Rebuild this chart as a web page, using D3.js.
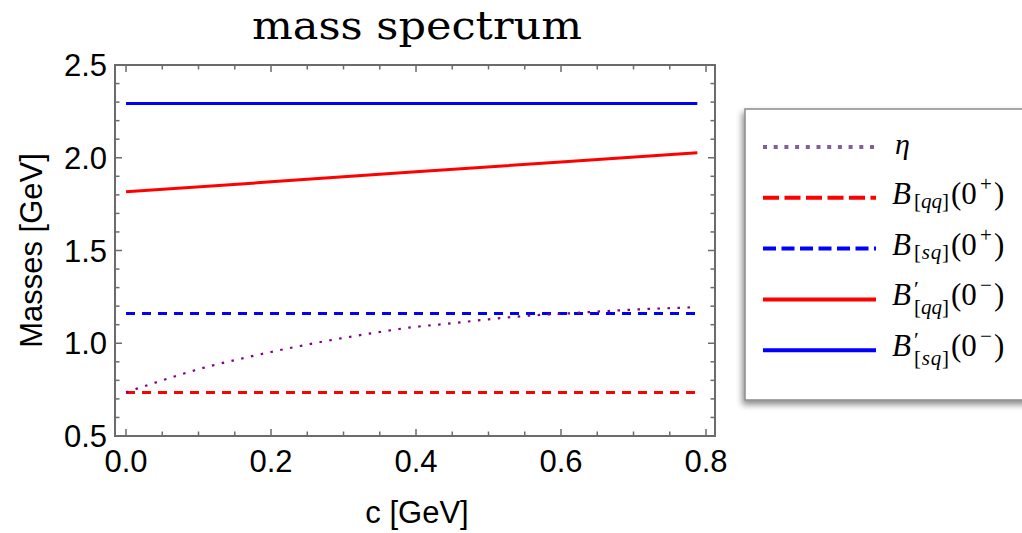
<!DOCTYPE html>
<html>
<head>
<meta charset="utf-8">
<script src="https://cdn.jsdelivr.net/npm/d3@7"></script>
<style>
  html, body { margin: 0; padding: 0; background: #fff; }
  svg { display: block; }
</style>
</head>
<body>
<div id="chart"></div>
<script>
//<data>-------------------------------------//
var cEta = [0, 0.04, 0.08, 0.12, 0.16, 0.20, 0.24, 0.28, 0.32, 0.36, 0.39, 0.45, 0.50, 0.56, 0.61, 0.67, 0.72, 0.78, 0.788];
var mEta = [0.736, 0.787, 0.837, 0.881, 0.918, 0.953, 0.985, 1.015, 1.042, 1.067, 1.084, 1.108, 1.129, 1.150, 1.161, 1.175, 1.185, 1.194, 1.196];
var cLine = [0, 0.2, 0.4, 0.6, 0.788];
var mBqq0p = [0.735, 0.735, 0.735, 0.735, 0.735];
var mBsq0p = [1.161, 1.161, 1.161, 1.161, 1.161];
var mBqq0m = [1.817, 1.870, 1.924, 1.977, 2.027];
var mBsq0m = [2.293, 2.293, 2.293, 2.293, 2.293];
var xTicks = [0.0, 0.2, 0.4, 0.6, 0.8];
var yTicks = [0.5, 1.0, 1.5, 2.0, 2.5];

var W = 1022, H = 533;
var frame = { left: 115, right: 715, top: 65, bottom: 436 };

var svg = d3.select("#chart").append("svg").attr("width", W).attr("height", H);
var defs = svg.append("defs");
var shadow = defs.append("filter").attr("id", "shadow").attr("x", "-10%").attr("y", "-10%").attr("width", "130%").attr("height", "130%");
shadow.append("feDropShadow").attr("dx", -2).attr("dy", 4).attr("stdDeviation", 3).attr("flood-color", "#000").attr("flood-opacity", 0.45);

var x = d3.scaleLinear().domain([-0.0152, 0.8124]).range([frame.left, frame.right]);
var y = d3.scaleLinear().domain([0.5, 2.5]).range([frame.bottom, frame.top]);

//<title>------------------------------------//
svg.append("text")
    .attr("x", (frame.left + frame.right) / 2 + 2).attr("y", 39)
    .attr("text-anchor", "middle")
    .attr("textLength", 330).attr("lengthAdjust", "spacingAndGlyphs")
    .style("font-family", "'DejaVu Serif', 'Liberation Serif', serif")
    .style("font-size", "40px")
    .text("mass spectrum");

//<series>-----------------------------------//
var line = d3.line().x(function (d) { return x(d[0]); }).y(function (d) { return y(d[1]); });
var lineSmooth = d3.line().curve(d3.curveMonotoneX).x(function (d) { return x(d[0]); }).y(function (d) { return y(d[1]); });

var plot = svg.append("g");
var series = [
    { c: cLine, m: mBsq0m, color: "#0000ff", dash: null, width: 3 },
    { c: cLine, m: mBqq0m, color: "#ff0000", dash: null, width: 3 },
    { c: cLine, m: mBsq0p, color: "#0000ff", dash: "9,7", width: 3 },
    { c: cLine, m: mBqq0p, color: "#ff0000", dash: "9,7", width: 3 },
];
series.forEach(function (s) {
    plot.append("path")
        .datum(d3.zip(s.c, s.m))
        .attr("d", line)
        .attr("fill", "none")
        .attr("stroke", s.color)
        .attr("stroke-width", s.width)
        .attr("stroke-dasharray", s.dash);
});
plot.append("path")
    .datum(d3.zip(cEta, mEta))
    .attr("d", lineSmooth)
    .attr("fill", "none")
    .attr("stroke", "#800080")
    .attr("stroke-width", 2.2)
    .attr("stroke-dasharray", "2.5,7.5");

//<frame + ticks>----------------------------//
var axisG = svg.append("g");
var frameColor = "#6b6b6b";
var xMinor = d3.range(0, 0.801, 0.05);
var yMinor = d3.range(0.5, 2.501, 0.1);
xMinor.forEach(function (v) {
    var major = Math.abs(v / 0.2 - Math.round(v / 0.2)) < 1e-6;
    var len = major ? 7 : 4.5;
    axisG.append("line").attr("x1", x(v)).attr("x2", x(v)).attr("y1", frame.bottom).attr("y2", frame.bottom - len)
        .attr("stroke", frameColor).attr("stroke-width", 1.5);
    axisG.append("line").attr("x1", x(v)).attr("x2", x(v)).attr("y1", frame.top).attr("y2", frame.top + len)
        .attr("stroke", frameColor).attr("stroke-width", 1.5);
});
yMinor.forEach(function (v) {
    var major = Math.abs(v / 0.5 - Math.round(v / 0.5)) < 1e-6;
    var len = major ? 7 : 4.5;
    axisG.append("line").attr("y1", y(v)).attr("y2", y(v)).attr("x1", frame.left).attr("x2", frame.left + len)
        .attr("stroke", frameColor).attr("stroke-width", 1.5);
    axisG.append("line").attr("y1", y(v)).attr("y2", y(v)).attr("x1", frame.right).attr("x2", frame.right - len)
        .attr("stroke", frameColor).attr("stroke-width", 1.5);
});
axisG.append("rect")
    .attr("x", frame.left).attr("y", frame.top)
    .attr("width", frame.right - frame.left).attr("height", frame.bottom - frame.top)
    .attr("fill", "none").attr("stroke", frameColor).attr("stroke-width", 2);

var tickFont = "'Liberation Sans', Arial, sans-serif";
axisG.selectAll(".xl").data(xTicks).enter().append("text")
    .attr("x", function (d) { return x(d); }).attr("y", 472)
    .attr("text-anchor", "middle")
    .style("font-family", tickFont).style("font-size", "31px")
    .text(function (d) { return d3.format(".1f")(d); });
axisG.selectAll(".yl").data(yTicks).enter().append("text")
    .attr("x", 107).attr("y", function (d) { return y(d) + 11; })
    .attr("text-anchor", "end")
    .style("font-family", tickFont).style("font-size", "31px")
    .text(function (d) { return d3.format(".1f")(d); });

svg.append("text")
    .attr("x", (frame.left + frame.right) / 2 + 2).attr("y", 523)
    .attr("text-anchor", "middle")
    .style("font-family", tickFont).style("font-size", "31px")
    .text("c [GeV]");
svg.append("text")
    .attr("transform", "translate(42," + ((frame.top + frame.bottom) / 2) + ") rotate(-90)")
    .attr("text-anchor", "middle")
    .style("font-family", tickFont).style("font-size", "31px")
    .text("Masses [GeV]");

//<legend>-----------------------------------//
var legend = svg.append("g");
legend.append("rect")
    .attr("x", 745).attr("y", 109).attr("width", 300).attr("height", 291)
    .attr("fill", "#fff").attr("stroke", "#8a8a8a").attr("stroke-width", 1.5)
    .attr("filter", "url(#shadow)");

var legendItems = [
    { color: "#7f5fa0", dash: "4,6.7", label: "eta" },
    { color: "#ff0000", dash: "16,5.5", sub: "qq", prime: false, sign: "+" },
    { color: "#0000ff", dash: "13,5.5", sub: "sq", prime: false, sign: "+" },
    { color: "#ff0000", dash: null, sub: "qq", prime: true, sign: "\u2212" },
    { color: "#0000ff", dash: null, sub: "sq", prime: true, sign: "\u2212" }
];
var mathFont = "'Liberation Serif', 'DejaVu Serif', serif";
var lx = 890;
legendItems.forEach(function (it, i) {
    var ry = 147 + i * 50.8;
    legend.append("line")
        .attr("x1", 763).attr("x2", 876).attr("y1", ry).attr("y2", ry)
        .attr("stroke", it.color).attr("stroke-width", 4)
        .attr("stroke-dasharray", it.dash);
    if (it.label === "eta") {
        legend.append("text").attr("x", 895).attr("y", ry + 7)
            .style("font-family", mathFont).style("font-style", "italic").style("font-size", "30px")
            .text("\u03b7");
        return;
    }
    var g = legend.append("g").style("font-family", mathFont);
    var b = g.append("text").attr("x", lx + 2).attr("y", ry + 6)
        .style("font-size", "31px").style("font-style", "italic");
    b.append("tspan").text("B");
    if (it.prime) {
        b.append("tspan").attr("dx", 3).attr("dy", -9).style("font-style", "normal").style("font-size", "22px").text("\u2032");
    }
    var sub = g.append("text").attr("x", lx + 24).attr("y", ry + (it.prime ? 15 : 10))
        .attr("textLength", 35).attr("lengthAdjust", "spacing")
        .style("font-size", "21px");
    sub.append("tspan").text("[");
    sub.append("tspan").style("font-style", "italic").text(it.sub);
    sub.append("tspan").text("]");
    g.append("text").attr("x", lx + 61).attr("y", ry + 6)
        .style("font-size", "31px").text("(0");
    g.append("text").attr("x", lx + 90).attr("y", ry - 7)
        .style("font-size", "21px").text(it.sign);
    g.append("text").attr("x", lx + 104).attr("y", ry + 6)
        .style("font-size", "31px").text(")");
});
</script>
</body>
</html>
